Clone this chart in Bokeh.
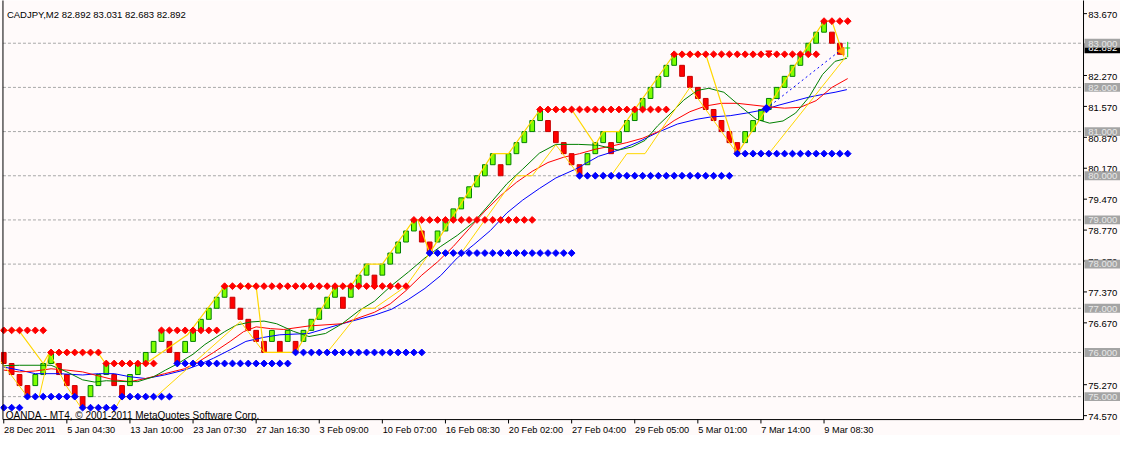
import math
from bokeh.plotting import figure
from bokeh.models import Range1d
from bokeh.core.properties import value
from bokeh.embed import file_html
from bokeh.resources import INLINE

# ---------------- data ----------------
symbol_line = "CADJPY,M2  82.892 83.031 82.683 82.892"
broker_line = "OANDA - MT4, \u00a9 2001-2011 MetaQuotes Software Corp."

box_size = 0.25
# bottom level of each renko brick, bars 1..107
brick_low = [
    75.75, 75.5, 75.25, 75.0, 75.25, 75.5, 75.75, 75.5, 75.25, 75.0,
    74.75, 75.0, 75.25, 75.5, 75.25, 75.0, 75.25, 75.5, 75.75, 76.0,
    76.25, 76.0, 75.75, 76.0, 76.25, 76.5, 76.75, 77.0, 77.25, 77.0,
    76.75, 76.5, 76.25, 76.0, 76.25, 76.0, 76.25, 76.0, 76.25, 76.5,
    76.75, 77.0, 77.25, 77.0, 77.25, 77.5, 77.75, 77.5, 77.75, 78.0,
    78.25, 78.5, 78.75, 78.5, 78.25, 78.5, 78.75, 79.0, 79.25, 79.5,
    79.75, 80.0, 80.25, 80.0, 80.25, 80.5, 80.75, 81.0, 81.25, 81.0,
    80.75, 80.5, 80.25, 80.0, 80.25, 80.5, 80.75, 80.5, 80.75, 81.0,
    81.25, 81.5, 81.75, 82.0, 82.25, 82.5, 82.25, 82.0, 81.75, 81.5,
    81.25, 81.0, 80.75, 80.5, 80.75, 81.0, 81.25, 81.5, 81.75, 82.0,
    82.25, 82.5, 82.75, 83.0, 83.25, 83.0, 82.75,
]
# U = up (green) brick, D = down (red) brick
brick_dir = ("DDDDUUUDDDDUUUDDUUUUUDDUUUUUUDDDDDUDUDUUUUUDUUUDUUUUUDD"
             "UUUUUUUUDUUUUUDDDDDUUUDUUUUUUUUDDDDDDDDUUUUUUUUUUUDD")

last_bar = 108
last_high = 83.031
last_low = 82.683
last_close = 82.892

# resistance (red) and support (blue) diamond rows: level, first bar, last bar
res_level = [76.5, 76.0, 75.75, 76.5, 77.5, 79.0, 81.5, 82.75, 83.5]
res_from = [1, 7, 14, 21, 29, 53, 69, 86, 105]
res_to = [6, 13, 20, 28, 52, 68, 85, 104, 108]
sup_level = [74.75, 75.0, 74.75, 75.0, 75.75, 76.0, 78.25, 80.0, 80.5]
sup_from = [1, 4, 11, 16, 23, 38, 55, 74, 94]
sup_to = [3, 10, 15, 22, 37, 54, 73, 93, 108]

# moving averages (bar, value)
ma_fast_x = [1, 3, 7, 9, 11, 12.5, 14, 16.5, 18, 20, 21.5, 23, 25, 26.5, 29, 30.5, 32.3, 34,
             35.6, 37.7, 39.7, 41.8, 43.9, 46, 48, 50, 52.3, 54.4, 56.4, 58.5, 60.6, 62.7,
             64.8, 66.8, 68.9, 71, 73.9, 76.4, 78.9, 80.6, 82.3, 83.9, 85.6, 87.2, 88.9,
             90.4, 92.3, 94.4, 96.4, 98.1, 99.8, 101.4, 103.1, 104.8, 106.4, 107.9]
ma_fast_y = [75.70, 75.71, 75.71, 75.56, 75.38, 75.33, 75.36, 75.34, 75.34, 75.45, 75.60,
             75.74, 75.96, 76.18, 76.47, 76.62, 76.69, 76.71, 76.65, 76.48, 76.36, 76.43,
             76.65, 76.94, 77.16, 77.49, 77.82, 78.14, 78.40, 78.65, 78.95, 79.38, 79.82,
             80.15, 80.51, 80.71, 80.71, 80.69, 80.58, 80.65, 80.80, 81.13, 81.42, 81.71,
             81.93, 81.98, 81.89, 81.57, 81.28, 81.19, 81.24, 81.42, 81.78, 82.29, 82.59, 82.66]
ma_mid_x = [1, 3, 5, 7, 9, 11, 13, 15, 17, 19, 21.4, 23.9, 25.6, 27.6, 29.7, 31.4, 33, 34.8,
            36.5, 39.7, 43.9, 48, 50, 52, 54, 56, 58, 60, 62, 64, 66, 68, 70, 72, 74, 76, 78,
            80, 82, 84, 86, 88, 90, 92, 94, 96, 98, 100, 102, 104, 106, 108]
ma_mid_y = [75.60, 75.56, 75.58, 75.63, 75.60, 75.56, 75.47, 75.38, 75.34, 75.41, 75.52,
            75.63, 75.78, 76.00, 76.25, 76.47, 76.58, 76.54, 76.52, 76.60, 76.65, 76.91,
            77.10, 77.40, 77.75, 78.05, 78.40, 78.80, 79.20, 79.55, 79.85, 80.10, 80.30,
            80.42, 80.50, 80.60, 80.67, 80.75, 80.85, 81.00, 81.25, 81.45, 81.58, 81.64,
            81.64, 81.60, 81.56, 81.53, 81.55, 81.70, 82.00, 82.20]
ma_slow_x = [1, 3, 5, 8, 11, 13, 15, 17, 19, 21.4, 23.9, 25.6, 27.6, 29.7, 31.7, 33.9, 36,
             39.7, 43.9, 48.1, 50.2, 52.3, 54.4, 56.4, 58.5, 60.6, 62.7, 64.8, 66.8, 68.9,
             71, 73.5, 76.4, 78.9, 81.4, 83.9, 86.4, 88.9, 90.6, 93.1, 95.2, 97.3, 99.3,
             101.4, 103.1, 104.8, 106.4, 107.9]
ma_slow_y = [75.67, 75.60, 75.52, 75.52, 75.49, 75.52, 75.52, 75.45, 75.41, 75.49, 75.60,
             75.71, 75.87, 76.06, 76.25, 76.34, 76.40, 76.43, 76.65, 76.85, 76.98, 77.20,
             77.45, 77.74, 78.14, 78.44, 78.76, 79.16, 79.45, 79.71, 79.95, 80.15, 80.44,
             80.58, 80.76, 80.98, 81.17, 81.28, 81.33, 81.36, 81.42, 81.49, 81.60, 81.70,
             81.78, 81.84, 81.89, 81.95]

# zigzag lines (bar, price)
zz_fast_x = [0.6, 2.9, 6, 6.8, 12.9, 13.9, 19, 24.3, 29, 33, 34, 38, 43, 45, 47, 49, 53,
             53.5, 55, 63, 65, 69, 73, 76, 77, 79, 86, 90, 94, 105, 106, 107.5]
zz_fast_y = [76.5, 76.5, 75.75, 76.0, 76.0, 75.75, 75.75, 76.4, 77.5, 77.5, 76.0, 76.0,
             77.5, 77.5, 78.0, 78.0, 79.0, 79.0, 78.25, 80.5, 80.5, 81.5, 81.5, 80.7, 81.0,
             81.0, 82.75, 82.75, 80.5, 83.5, 83.5, 82.7]
zz_slow_x = [0.6, 4, 5.5, 6.8, 8.9, 10.8, 15.2, 16, 20.3, 31, 34, 42, 46.5, 48, 52, 55, 59,
             66, 68, 71, 74, 78, 80, 82.3, 88, 94, 98, 107.8]
zz_slow_y = [75.8, 75.0, 75.0, 76.0, 75.25, 74.75, 74.75, 75.0, 75.0, 76.7, 76.0, 76.0,
             77.0, 77.0, 77.5, 78.25, 78.25, 80.0, 80.0, 80.7, 80.0, 80.0, 80.5, 80.5, 82.0,
             80.5, 80.5, 82.7]

trend_x = [97.7, 106.8]
trend_y = [81.52, 82.80]
arrow_x = [107.25]
arrow_y = [82.82]
flag_x = [97.6, 98.4]
flag_y = [82.82, 82.82]

date_tick_bars = [1, 9, 17, 25, 33, 41, 49, 57, 65, 73, 81, 89, 97, 105]
date_tick_labels = ["28 Dec 2011", "5 Jan 04:30", "13 Jan 10:00", "23 Jan 07:30",
                    "27 Jan 16:30", "3 Feb 09:00", "10 Feb 07:00", "16 Feb 08:30",
                    "20 Feb 02:00", "27 Feb 04:00", "29 Feb 05:00", "5 Mar 01:00",
                    "7 Mar 14:00", "9 Mar 08:30"]
price_ticks = [74.57, 75.27, 76.67, 77.37, 78.07, 78.77, 79.47, 80.17, 80.87, 81.57,
               82.27, 83.67]
round_levels = [75, 76, 77, 78, 79, 80, 81, 82, 83]

# ---------------- layout helpers (reference pixels -> data) ----------------
REF_W, REF_H = 1136, 451
PX_BAR = 8.0
PX_UNIT = 45.8


def rx(px):
    return (px + 4.7) / PX_BAR


def ry(py):
    return 83.0 - (py - 44.3) / PX_UNIT


def hx(n):
    return n / PX_BAR


def hy(n):
    return n / PX_UNIT


BG = "#FFFAFA"
FONT = value("Liberation Sans")

p = figure(width=1120, height=435,
           x_range=Range1d(rx(0), rx(REF_W)), y_range=Range1d(ry(REF_H), ry(0)),
           x_axis_type=None, y_axis_type=None, toolbar_location=None,
           output_backend="svg", min_border=0,
           background_fill_color=BG, border_fill_color=BG, outline_line_color=None)

# grid lines at round levels
n = len(round_levels)
p.segment(x0=[rx(2.5)] * n, x1=[rx(1098.5)] * n, y0=round_levels, y1=round_levels,
          line_color="#A8A8A8", line_dash="3 2", line_width=1)

# bricks
half = 0.30
ux = [i + 1 for i, d in enumerate(brick_dir) if d == "U"]
ul = [brick_low[i] for i, d in enumerate(brick_dir) if d == "U"]
dx = [i + 1 for i, d in enumerate(brick_dir) if d == "D"]
dl = [brick_low[i] for i, d in enumerate(brick_dir) if d == "D"]
p.quad(left=[x - half for x in ux], right=[x + half for x in ux],
       bottom=ul, top=[v + box_size for v in ul],
       fill_color="#7FFF00", line_color="#008000", line_width=1)
p.quad(left=[x - half for x in dx], right=[x + half for x in dx],
       bottom=dl, top=[v + box_size for v in dl],
       fill_color="#FF0000", line_color="#C80000", line_width=1)

# moving averages
p.line(ma_slow_x, ma_slow_y, line_color="#0000FF", line_width=1)
p.line(ma_mid_x, ma_mid_y, line_color="#FF0000", line_width=1)
p.line(ma_fast_x, ma_fast_y, line_color="#008000", line_width=1)

# zigzags
p.line(zz_slow_x, zz_slow_y, line_color="#FFD700", line_width=1)
p.line(zz_fast_x, zz_fast_y, line_color="#FFD700", line_width=1.2)

# diamond rows
rxs, rys, bxs, bys = [], [], [], []
for lv, a, b in zip(res_level, res_from, res_to):
    for k in range(a, b + 1):
        rxs.append(k)
        rys.append(lv)
for lv, a, b in zip(sup_level, sup_from, sup_to):
    for k in range(a, b + 1):
        bxs.append(k)
        bys.append(lv)
p.scatter(rxs, rys, marker="square", angle=math.pi / 4, size=4.8,
          fill_color="#FF0000", line_color="#FF0000", line_width=1)
p.scatter(bxs, bys, marker="square", angle=math.pi / 4, size=4.8,
          fill_color="#0000FF", line_color="#0000FF", line_width=1)

# projection line and markers near the end
p.line(trend_x, trend_y, line_color="#0000FF", line_dash="2 3", line_width=1)
p.scatter([trend_x[0]], [trend_y[0]], marker="square", angle=math.pi / 4, size=6,
          fill_color="#0000FF", line_color="#0000FF")
p.line(flag_x, flag_y, line_color="#FF0000", line_width=1.5)
p.scatter(arrow_x, arrow_y, marker="triangle", angle=math.pi / 2, size=8,
          fill_color="#FFA500", line_color="#FF8C00")

# current (live) bar
p.segment(x0=[last_bar], x1=[last_bar], y0=[last_low], y1=[last_high],
          line_color="#00E000", line_width=1)
p.segment(x0=[last_bar - hx(2.5)], x1=[last_bar + hx(2.5)], y0=[last_close], y1=[last_close],
          line_color="#00E000", line_width=1)

# frame lines
p.segment(x0=[rx(2.5), rx(2.5), rx(1098.5)], x1=[rx(2.5), rx(1098.5), rx(1098.5)],
          y0=[ry(-2), ry(434.5), ry(-2)], y1=[ry(434.5), ry(434.5), ry(434.5)],
          line_color="#000000", line_width=1)

# time axis ticks and labels
m = len(date_tick_bars)
p.segment(x0=date_tick_bars, x1=date_tick_bars, y0=[ry(434.5)] * m, y1=[ry(438.5)] * m,
          line_color="#000000", line_width=1)
p.text(x=[b + hx(0.3) for b in date_tick_bars], y=[ry(445.5)] * m, text=date_tick_labels,
       text_font=FONT, text_font_size="9.2px", text_color="#000000",
       text_align="left", text_baseline="alphabetic")

# price axis ticks and labels
k = len(price_ticks)
p.segment(x0=[rx(1098.5)] * k, x1=[rx(1102)] * k, y0=price_ticks, y1=price_ticks,
          line_color="#000000", line_width=1)
p.text(x=[rx(1103.3)] * k, y=[t - hy(1.3) for t in price_ticks],
       text=["%.3f" % t for t in price_ticks],
       text_font=FONT, text_font_size="9.5px", text_color="#000000",
       text_align="left", text_baseline="middle")

# current price box
p.quad(left=[rx(1099.5)], right=[rx(1140)], bottom=[last_close - hy(5.5)],
       top=[last_close + hy(5.0)], fill_color="#000000", line_color=None)
p.text(x=[rx(1103.3)], y=[last_close - hy(0.5)], text=["%.3f" % last_close],
       text_font=FONT, text_font_size="9.5px", text_color="#FFFFFF",
       text_align="left", text_baseline="middle")

# round level boxes
p.quad(left=[rx(1099.5)] * n, right=[rx(1140)] * n,
       bottom=[lv - hy(4.6) for lv in round_levels], top=[lv + hy(4.6) for lv in round_levels],
       fill_color="#A4A4A4", line_color=None)
p.text(x=[rx(1103.3)] * n, y=[lv - hy(0.4) for lv in round_levels],
       text=["%.3f" % lv for lv in round_levels],
       text_font=FONT, text_font_size="9.5px", text_color="#E8E8E8",
       text_align="left", text_baseline="middle")

# header and footer texts
p.text(x=[rx(6.5)], y=[ry(14.8)], text=[symbol_line], text_font=FONT,
       text_font_size="9.5px", text_color="#000000", text_align="left",
       text_baseline="alphabetic")
p.text(x=[rx(5.4)], y=[ry(430.0)], text=[broker_line], text_font=FONT,
       text_font_size="10px", text_color="#000000", text_align="left",
       text_baseline="alphabetic")

open("out.html", "w").write(file_html(p, INLINE))
